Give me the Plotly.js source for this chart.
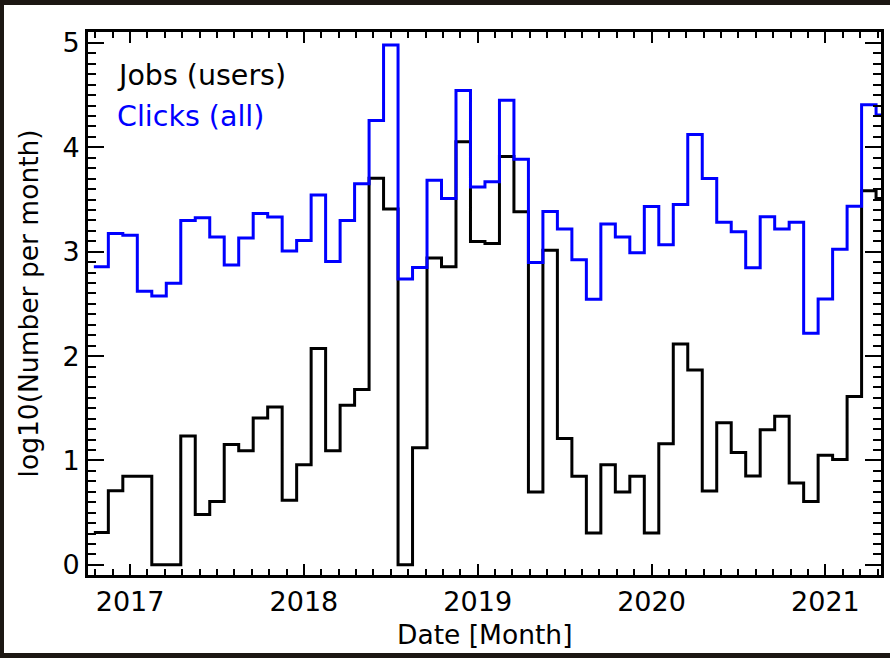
<!DOCTYPE html>
<html>
<head>
<meta charset="utf-8">
<script src="https://cdn.plot.ly/plotly-3.0.1.min.js"></script>
<style>
html,body{margin:0;padding:0;background:#1c1713;width:890px;height:658px;overflow:hidden}
#panel{position:absolute;left:4px;top:5px;width:886px;height:648px;background:#ffffff}
#chart{position:absolute;left:0;top:0;width:890px;height:658px}
</style>
</head>
<body>
<div id="panel"></div>
<div id="chart"></div>
<script>
// Months (YYYY-MM), Nov 2016 .. May 2021
const months = [
  "2016-11","2016-12",
  "2017-01","2017-02","2017-03","2017-04","2017-05","2017-06","2017-07","2017-08","2017-09","2017-10","2017-11","2017-12",
  "2018-01","2018-02","2018-03","2018-04","2018-05","2018-06","2018-07","2018-08","2018-09","2018-10","2018-11","2018-12",
  "2019-01","2019-02","2019-03","2019-04","2019-05","2019-06","2019-07","2019-08","2019-09","2019-10","2019-11","2019-12",
  "2020-01","2020-02","2020-03","2020-04","2020-05","2020-06","2020-07","2020-08","2020-09","2020-10","2020-11","2020-12",
  "2021-01","2021-02","2021-03","2021-04","2021-05"
];

// log10(Jobs per month), users
const jobs = [
  0.31, 0.71,
  0.85, 0.85, 0.00, 0.00, 1.235, 0.483, 0.607, 1.154, 1.094, 1.406, 1.513, 0.62,
  0.96, 2.074, 1.094, 1.53, 1.681, 3.705, 3.409, 0.00, 1.121, 2.94, 2.856, 4.054,
  3.097, 3.08, 3.913, 3.383, 0.698, 3.013, 1.211, 0.849, 0.305, 0.96, 0.698, 0.849,
  0.305, 1.161, 2.117, 1.866, 0.708, 1.362, 1.077, 0.852, 1.295, 1.423, 0.785, 0.607,
  1.05, 1.01, 1.614, 3.584, 3.51
];

// log10(Clicks per month), all
const clicks = [
  2.856, 3.174,
  3.158, 2.621, 2.577, 2.698, 3.299, 3.326, 3.141, 2.872, 3.131, 3.366, 3.332, 3.007,
  3.107, 3.544, 2.906, 3.299, 3.651, 4.258, 4.98, 2.738, 2.849, 3.685, 3.51, 4.544,
  3.621, 3.671, 4.45, 3.886, 2.896, 3.386, 3.218, 2.923, 2.544, 3.265, 3.141, 2.99,
  3.433, 3.067, 3.453, 4.124, 3.701, 3.282, 3.191, 2.846, 3.336, 3.218, 3.282, 2.218,
  2.547, 3.023, 3.436, 4.409, 4.309
];

const legendLabels = ["Jobs (users)", "Clicks (all)"];
const seriesColors = ["#000000", "#0000ff"];
const xTitle = "Date [Month]";
const yTitle = "log10(Number per month)";

function monthToYear(s){
  const p = s.split("-");
  return +p[0] + (+p[1] - 1) / 12;
}
// histogram-style steps centred on each month
function steps(vals){
  const xs = [], ys = [];
  const half = 1/24;
  months.forEach((m, i) => {
    const x = monthToYear(m);
    xs.push(x - half, x + half);
    ys.push(vals[i], vals[i]);
  });
  return {x: xs, y: ys};
}

const sJobs = steps(jobs), sClicks = steps(clicks);
const traces = [
  {x: sJobs.x, y: sJobs.y, mode: "lines", line: {color: seriesColors[0], width: 3}, hoverinfo: "skip"},
  {x: sClicks.x, y: sClicks.y, mode: "lines", line: {color: seriesColors[1], width: 3}, hoverinfo: "skip"}
];

const FONT = "DejaVu Sans";
const axisCommon = {
  showline: true, linewidth: 3, linecolor: "#000", mirror: "allticks",
  ticks: "inside", tickwidth: 2, tickcolor: "#000",
  showgrid: false, zeroline: false, tickmode: "linear",
  tickfont: {family: FONT, size: 27, color: "#000"}
};

const layout = {
  width: 890, height: 658,
  margin: {l: 88, r: 9, t: 32, b: 83, pad: 0},
  paper_bgcolor: "rgba(0,0,0,0)",
  plot_bgcolor: "#ffffff",
  showlegend: false,
  font: {family: FONT, size: 27, color: "#000"},
  xaxis: Object.assign({}, axisCommon, {
    range: [2016.758, 2021.32], tick0: 2017, dtick: 1, tickformat: "d",
    ticklen: 11, ticklabelstandoff: 1,
    minor: {tick0: 2017, dtick: 0.1, ticks: "inside", ticklen: 6, tickwidth: 2, tickcolor: "#000", showgrid: false}
  }),
  yaxis: Object.assign({}, axisCommon, {
    range: [-0.097, 5.105], tick0: 0, dtick: 1, tickformat: "d",
    ticklen: 16, ticklabelstandoff: 0,
    minor: {tick0: 0, dtick: 0.1, ticks: "inside", ticklen: 8, tickwidth: 2, tickcolor: "#000", showgrid: false}
  }),
  annotations: [
    {text: legendLabels[0], xref: "paper", yref: "paper", x: 0.0345, y: 0.919, xanchor: "left", yanchor: "middle",
     showarrow: false, font: {family: FONT, size: 28.5, color: seriesColors[0]}},
    {text: legendLabels[1], xref: "paper", yref: "paper", x: 0.0345, y: 0.8435, xanchor: "left", yanchor: "middle",
     showarrow: false, font: {family: FONT, size: 28.5, color: seriesColors[1]}},
    {text: xTitle, xref: "paper", yref: "paper", x: 0.5, y: -0.1095, xanchor: "center", yanchor: "middle",
     showarrow: false, font: {family: FONT, size: 26.5, color: "#000"}},
    {text: yTitle, xref: "paper", yref: "paper", x: -0.0745, y: 0.5, xanchor: "center", yanchor: "middle",
     textangle: -90, showarrow: false, font: {family: FONT, size: 26.5, color: "#000"}}
  ]
};

Plotly.newPlot("chart", traces, layout, {displayModeBar: false, staticPlot: true});
</script>
</body>
</html>
